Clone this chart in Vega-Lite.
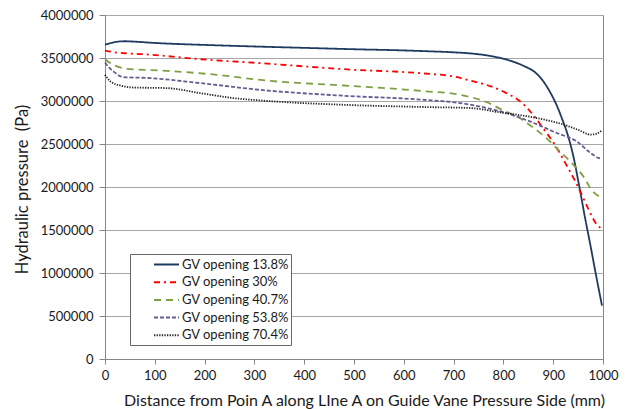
{
  "$schema": "https://vega.github.io/schema/vega-lite/v6.json",
  "width": 498,
  "height": 344,
  "autosize": {"type": "none"},
  "padding": {"left": 105, "top": 15, "right": 28, "bottom": 50},
  "background": "white",
  "config": {
    "font": "Lato",
    "view": {"stroke": "#868686", "strokeWidth": 1},
    "axis": {"labelFont": "Lato", "titleFont": "Lato", "labelColor": "#1a1a1a", "titleColor": "#1a1a1a", "titleFontWeight": "normal", "domainColor": "#868686", "tickColor": "#868686", "gridColor": "#A6A6A6"},
    "legend": {"labelFont": "Lato", "labelColor": "#1a1a1a"}
  },
  "data": {"values": [
    {"x": 0, "p": 3655000, "s": "GV opening 13.8%"},
    {"x": 20, "p": 3685000, "s": "GV opening 13.8%"},
    {"x": 40, "p": 3695000, "s": "GV opening 13.8%"},
    {"x": 60, "p": 3690000, "s": "GV opening 13.8%"},
    {"x": 100, "p": 3675000, "s": "GV opening 13.8%"},
    {"x": 150, "p": 3662000, "s": "GV opening 13.8%"},
    {"x": 200, "p": 3652000, "s": "GV opening 13.8%"},
    {"x": 300, "p": 3634000, "s": "GV opening 13.8%"},
    {"x": 400, "p": 3618000, "s": "GV opening 13.8%"},
    {"x": 500, "p": 3602000, "s": "GV opening 13.8%"},
    {"x": 600, "p": 3588000, "s": "GV opening 13.8%"},
    {"x": 650, "p": 3578000, "s": "GV opening 13.8%"},
    {"x": 700, "p": 3566000, "s": "GV opening 13.8%"},
    {"x": 740, "p": 3550000, "s": "GV opening 13.8%"},
    {"x": 780, "p": 3517000, "s": "GV opening 13.8%"},
    {"x": 810, "p": 3475000, "s": "GV opening 13.8%"},
    {"x": 840, "p": 3410000, "s": "GV opening 13.8%"},
    {"x": 864, "p": 3331000, "s": "GV opening 13.8%"},
    {"x": 880, "p": 3230000, "s": "GV opening 13.8%"},
    {"x": 895, "p": 3090000, "s": "GV opening 13.8%"},
    {"x": 908, "p": 2937000, "s": "GV opening 13.8%"},
    {"x": 918, "p": 2790000, "s": "GV opening 13.8%"},
    {"x": 928, "p": 2628000, "s": "GV opening 13.8%"},
    {"x": 940, "p": 2370000, "s": "GV opening 13.8%"},
    {"x": 951, "p": 2049000, "s": "GV opening 13.8%"},
    {"x": 964, "p": 1640000, "s": "GV opening 13.8%"},
    {"x": 975, "p": 1314000, "s": "GV opening 13.8%"},
    {"x": 985, "p": 1005000, "s": "GV opening 13.8%"},
    {"x": 998, "p": 620000, "s": "GV opening 13.8%"},

    {"x": 0, "p": 3587000, "s": "GV opening 30%"},
    {"x": 15, "p": 3570000, "s": "GV opening 30%"},
    {"x": 40, "p": 3555000, "s": "GV opening 30%"},
    {"x": 78, "p": 3544000, "s": "GV opening 30%"},
    {"x": 191, "p": 3486000, "s": "GV opening 30%"},
    {"x": 320, "p": 3437000, "s": "GV opening 30%"},
    {"x": 479, "p": 3370000, "s": "GV opening 30%"},
    {"x": 640, "p": 3320000, "s": "GV opening 30%"},
    {"x": 700, "p": 3285000, "s": "GV opening 30%"},
    {"x": 740, "p": 3227000, "s": "GV opening 30%"},
    {"x": 775, "p": 3170000, "s": "GV opening 30%"},
    {"x": 805, "p": 3095000, "s": "GV opening 30%"},
    {"x": 837, "p": 2980000, "s": "GV opening 30%"},
    {"x": 861, "p": 2830000, "s": "GV opening 30%"},
    {"x": 880, "p": 2680000, "s": "GV opening 30%"},
    {"x": 901, "p": 2512000, "s": "GV opening 30%"},
    {"x": 928, "p": 2241000, "s": "GV opening 30%"},
    {"x": 951, "p": 1990000, "s": "GV opening 30%"},
    {"x": 971, "p": 1739000, "s": "GV opening 30%"},
    {"x": 988, "p": 1560000, "s": "GV opening 30%"},
    {"x": 998, "p": 1515000, "s": "GV opening 30%"},

    {"x": 0, "p": 3486000, "s": "GV opening 40.7%"},
    {"x": 8, "p": 3450000, "s": "GV opening 40.7%"},
    {"x": 17, "p": 3420000, "s": "GV opening 40.7%"},
    {"x": 44, "p": 3374000, "s": "GV opening 40.7%"},
    {"x": 124, "p": 3351000, "s": "GV opening 40.7%"},
    {"x": 225, "p": 3304000, "s": "GV opening 40.7%"},
    {"x": 325, "p": 3237000, "s": "GV opening 40.7%"},
    {"x": 479, "p": 3180000, "s": "GV opening 40.7%"},
    {"x": 640, "p": 3115000, "s": "GV opening 40.7%"},
    {"x": 713, "p": 3072000, "s": "GV opening 40.7%"},
    {"x": 767, "p": 2985000, "s": "GV opening 40.7%"},
    {"x": 800, "p": 2890000, "s": "GV opening 40.7%"},
    {"x": 834, "p": 2800000, "s": "GV opening 40.7%"},
    {"x": 847, "p": 2744000, "s": "GV opening 40.7%"},
    {"x": 874, "p": 2628000, "s": "GV opening 40.7%"},
    {"x": 888, "p": 2560000, "s": "GV opening 40.7%"},
    {"x": 907, "p": 2450000, "s": "GV opening 40.7%"},
    {"x": 937, "p": 2280000, "s": "GV opening 40.7%"},
    {"x": 961, "p": 2120000, "s": "GV opening 40.7%"},
    {"x": 978, "p": 1960000, "s": "GV opening 40.7%"},
    {"x": 990, "p": 1900000, "s": "GV opening 40.7%"},
    {"x": 997, "p": 1893000, "s": "GV opening 40.7%"},

    {"x": 0, "p": 3447000, "s": "GV opening 53.8%"},
    {"x": 8, "p": 3390000, "s": "GV opening 53.8%"},
    {"x": 17, "p": 3343000, "s": "GV opening 53.8%"},
    {"x": 37, "p": 3278000, "s": "GV opening 53.8%"},
    {"x": 91, "p": 3266000, "s": "GV opening 53.8%"},
    {"x": 191, "p": 3208000, "s": "GV opening 53.8%"},
    {"x": 318, "p": 3126000, "s": "GV opening 53.8%"},
    {"x": 479, "p": 3061000, "s": "GV opening 53.8%"},
    {"x": 640, "p": 3014000, "s": "GV opening 53.8%"},
    {"x": 713, "p": 2976000, "s": "GV opening 53.8%"},
    {"x": 767, "p": 2918000, "s": "GV opening 53.8%"},
    {"x": 800, "p": 2870000, "s": "GV opening 53.8%"},
    {"x": 861, "p": 2744000, "s": "GV opening 53.8%"},
    {"x": 907, "p": 2628000, "s": "GV opening 53.8%"},
    {"x": 947, "p": 2531000, "s": "GV opening 53.8%"},
    {"x": 975, "p": 2396000, "s": "GV opening 53.8%"},
    {"x": 990, "p": 2340000, "s": "GV opening 53.8%"},
    {"x": 997, "p": 2327000, "s": "GV opening 53.8%"},

    {"x": 0, "p": 3304000, "s": "GV opening 70.4%"},
    {"x": 11, "p": 3227000, "s": "GV opening 70.4%"},
    {"x": 31, "p": 3180000, "s": "GV opening 70.4%"},
    {"x": 57, "p": 3157000, "s": "GV opening 70.4%"},
    {"x": 124, "p": 3150000, "s": "GV opening 70.4%"},
    {"x": 191, "p": 3092000, "s": "GV opening 70.4%"},
    {"x": 258, "p": 3034000, "s": "GV opening 70.4%"},
    {"x": 320, "p": 3003000, "s": "GV opening 70.4%"},
    {"x": 479, "p": 2956000, "s": "GV opening 70.4%"},
    {"x": 640, "p": 2930000, "s": "GV opening 70.4%"},
    {"x": 733, "p": 2918000, "s": "GV opening 70.4%"},
    {"x": 794, "p": 2867000, "s": "GV opening 70.4%"},
    {"x": 867, "p": 2802000, "s": "GV opening 70.4%"},
    {"x": 921, "p": 2725000, "s": "GV opening 70.4%"},
    {"x": 950, "p": 2665000, "s": "GV opening 70.4%"},
    {"x": 975, "p": 2609000, "s": "GV opening 70.4%"},
    {"x": 987, "p": 2620000, "s": "GV opening 70.4%"},
    {"x": 997, "p": 2655000, "s": "GV opening 70.4%"}
  ]},
  "mark": {"type": "line", "interpolate": "monotone", "strokeWidth": 1.8},
  "encoding": {
    "x": {
      "field": "x", "type": "quantitative",
      "scale": {"domain": [0, 1000], "nice": false},
      "axis": {
        "values": [0, 100, 200, 300, 400, 500, 600, 700, 800, 900, 1000],
        "format": "d",
        "grid": false, "tickSize": 5, "labelPadding": 5, "labelFontSize": 13,
        "labelFlush": false,
        "title": "Distance from Poin A along LIne A on Guide Vane Pressure Side (mm)",
        "titleFontSize": 16, "titleX": 259, "titleY": 41, "titleAlign": "center", "titleBaseline": "middle"
      }
    },
    "y": {
      "field": "p", "type": "quantitative",
      "scale": {"domain": [0, 4000000], "nice": false},
      "axis": {
        "values": [0, 500000, 1000000, 1500000, 2000000, 2500000, 3000000, 3500000, 4000000],
        "format": "d", "tickSize": 6, "labelPadding": 6, "labelFontSize": 13,
        "labelFlush": false,
        "title": "Hydraulic pressure\u00a0 (Pa)",
        "titleFontSize": 16.5, "titleX": -83, "titleY": 174, "titleAngle": -90, "titleAlign": "center", "titleBaseline": "middle"
      }
    },
    "color": {
      "field": "s", "type": "nominal",
      "scale": {
        "domain": ["GV opening 13.8%", "GV opening 30%", "GV opening 40.7%", "GV opening 53.8%", "GV opening 70.4%"],
        "range": ["#1F3A60", "#FF0000", "#7F9F45", "#6A5A8E", "#222222"]
      },
      "legend": {
        "orient": "none", "legendX": 25, "legendY": 239, "title": null,
        "strokeColor": "#666666", "fillColor": "white", "padding": 2,
        "symbolType": "M-1.667,0H1.667", "symbolSize": 225, "symbolStrokeWidth": 1.5,
        "symbolOffset": 26, "labelOffset": 7, "labelFontSize": 13, "rowPadding": 1.7,
        "labelExpr": "datum.label + '\u00a0\u00a0\u00a0\u00a0\u00a0\u00a0'"
      }
    },
    "strokeDash": {
      "field": "s", "type": "nominal",
      "scale": {
        "domain": ["GV opening 13.8%", "GV opening 30%", "GV opening 40.7%", "GV opening 53.8%", "GV opening 70.4%"],
        "range": [[1, 0], [6, 4, 2, 4], [7, 5], [4, 2], [1.3, 1.3]]
      },
      "legend": null
    },
    "strokeWidth": {
      "field": "s", "type": "nominal",
      "scale": {
        "domain": ["GV opening 13.8%", "GV opening 30%", "GV opening 40.7%", "GV opening 53.8%", "GV opening 70.4%"],
        "range": [2, 2, 2, 1.8, 1.5]
      },
      "legend": null
    }
  }
}
